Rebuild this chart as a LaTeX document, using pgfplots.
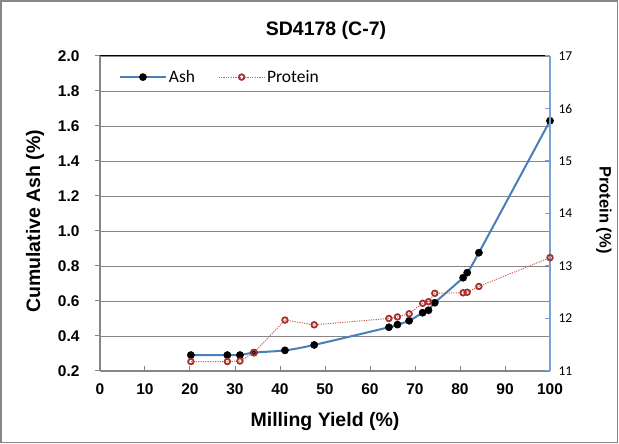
\documentclass[border=0pt]{standalone}
\usepackage{fontspec}
\setmainfont{Liberation Sans}
\newfontfamily\carlito{Carlito}
\usepackage{pgfplots}
\pgfplotsset{compat=1.18}
\definecolor{ashblue}{RGB}{74,126,187}
\definecolor{protred}{RGB}{165,50,45}
\definecolor{protline}{RGB}{200,100,95}
\definecolor{gridgray}{RGB}{134,134,134}
\definecolor{raxis}{RGB}{120,160,210}
\begin{document}
\begin{tikzpicture}[x=1pt,y=1pt]
\useasboundingbox (0,0) rectangle (619,444);
\draw[gridgray, line width=1.2pt] (1,1.5) rectangle (617.5,443);
\node[font=\bfseries\fontsize{19.5}{21}\selectfont] at (326,414) {SD4178 (C-7)};
\begin{axis}[
  at={(100pt,73pt)}, anchor=south west, scale only axis, width=450pt, height=315pt,
  xmin=0, xmax=100, ymin=0.2, ymax=2.0,
  xtick={0,10,20,30,40,50,60,70,80,90,100},
  ytick={0.2,0.4,0.6,0.8,1.0,1.2,1.4,1.6,1.8,2.0},
  axis x line*=bottom, axis y line*=left,
  axis line style={gridgray, line width=1.5pt, -},
  tick align=outside, major tick length=5pt,
  tick style={gridgray, line width=1pt},
  xtick style={yshift=5pt},
  ymajorgrids, grid style={gridgray, line width=0.9pt},
  /pgf/number format/assume math mode=true,
  ticklabel style={font=\bfseries\fontsize{15.5}{16}\selectfont},
  xticklabel style={yshift=-4pt},
  yticklabel style={xshift=-12pt, /pgf/number format/.cd, fixed, fixed zerofill, precision=1},
  xlabel={Milling Yield (\%)}, ylabel={Cumulative Ash (\%)},
  label style={font=\bfseries\fontsize{19.5}{21}\selectfont},
  xlabel style={at={(axis description cs:0.5,-0.16)}, anchor=center},
  ylabel style={at={(axis description cs:-0.144,0.475)}, anchor=center},
  legend style={at={(axis description cs:0.035,0.933)}, anchor=west, draw=none, fill=none,
    font=\carlito\fontsize{17.5}{19}\selectfont, legend columns=2,
    /tikz/every even column/.append style={column sep=21pt}},
  legend image code/.code={\draw[mark repeat=2,mark phase=2] plot coordinates {(0pt,0pt) (23pt,0pt) (46pt,0pt)};},
  clip=false,
]
\draw[black, line width=1pt] (axis cs:0,2) -- (axis cs:100,2);
\addplot[ashblue, line width=2pt, smooth, mark=*, mark options={black, fill=black, line width=0.5pt}, mark size=3.6pt] table {
x y
20.2 0.291
28.3 0.291
31.1 0.291
34.2 0.305
41.1 0.318
47.6 0.349
64.2 0.450
66.1 0.465
68.7 0.487
71.7 0.533
73.0 0.547
74.4 0.590
80.7 0.733
81.6 0.762
84.2 0.876
100 1.630
};
\addlegendentry{Ash}
\addlegendimage{protline, line width=1pt, dash pattern=on 1.2pt off 1.2pt, mark=o, mark options={protred, solid, line width=1.8pt, fill=white}, mark size=2.8pt}
\addlegendentry{Protein}
\end{axis}
\begin{axis}[
  at={(100pt,73pt)}, anchor=south west, scale only axis, width=450pt, height=315pt,
  xmin=0, xmax=100, ymin=11, ymax=17,
  hide x axis, axis y line*=right,
  axis line style={raxis, line width=1.2pt, -},
  ytick={11,12,13,14,15,16,17},
  tick align=inside, major tick length=5pt,
  ytick style={raxis, line width=1pt},
  /pgf/number format/assume math mode=true,
  yticklabel style={font=\carlito\fontsize{13.5}{14}\selectfont, xshift=5pt},
  ylabel={Protein (\%)},
  ylabel style={at={(axis description cs:1.12,0.511)}, anchor=center, rotate=180, font=\bfseries\fontsize{16.5}{18}\selectfont},
  clip=false,
]
\addplot[protline, line width=1pt, dash pattern=on 1.2pt off 1.2pt, mark=o, mark options={protred, solid, line width=1.8pt, fill=white}, mark size=2.8pt] table {
x y
20.2 11.18
28.3 11.18
31.1 11.19
34.2 11.35
41.1 11.97
47.6 11.88
64.2 12.00
66.1 12.03
68.7 12.09
71.7 12.29
73.0 12.32
74.4 12.48
80.7 12.49
81.6 12.50
84.2 12.61
100 13.16
};
\end{axis}
\end{tikzpicture}
\end{document}
